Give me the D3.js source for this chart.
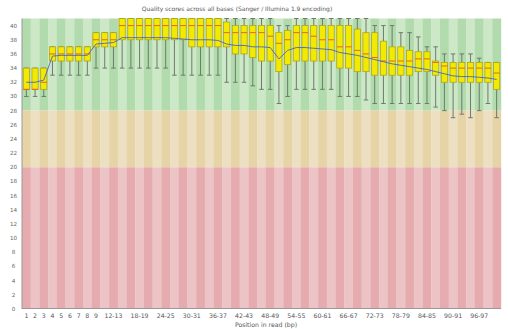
<!DOCTYPE html>
<html><head><meta charset="utf-8">
<script src="https://cdn.jsdelivr.net/npm/d3@7"></script>
<style>body{margin:0;background:#fff}svg{display:block}text{font-family:"DejaVu Sans",sans-serif}</style>
</head><body><svg id="c" width="508" height="329"></svg>
<script>
const categories = ["1","2","3","4","5","6","7","8","9","10-11","12-13","14-15","16-17","18-19","20-21","22-23","24-25","26-27","28-29","30-31","32-33","34-35","36-37","38-39","40-41","42-43","44-45","46-47","48-49","50-51","52-53","54-55","56-57","58-59","60-61","62-63","64-65","66-67","68-69","70-71","72-73","74-75","76-77","78-79","80-81","82-83","84-85","86-87","88-89","90-91","92-93","94-95","96-97","98-99","100-101"];
const shownLabels = ["1","2","3","4","5","6","7","8","9","12-13","18-19","24-25","30-31","36-37","42-43","48-49","54-55","60-61","66-67","72-73","78-79","84-85","90-91","96-97"];
const whiskerLow = [30,30,30,33,33,33,33,33,34,34,34,34,34,34,34,34,34,33,33,33,33,33,33,32,32,32,31.5,31,31,29,30,31,31,31,31,31,30,30,30,29.5,29,29,29,29,29,29,29,28.5,28,27,27.5,27,28,29,27];
const lowerQuartile = [31,31,31,35,35,35,35,35,37,37,37,38,38,38,38,38,38,38,38,37,37,37,37,37,36,36,35.5,35,35,33.5,34.5,35,35,35,35,35,34,34,33.5,33.5,33,33,33,33,33,33.5,33.5,33,32,32,32,32,32,32,31];
const median = [31,31,32,36,36,36,36,36,38,38,38,40,40,40,40,40,40,40,40,40,40,40,40,39,39,39,39,39,38.5,37.5,38,39,39,38.5,38,38,37,37,36.5,36,35.5,35,35,35,35,35.3,35.3,34.8,34.3,34,34,34,34,34,33.3];
const upperQuartile = [34,34,34,37,37,37,37,37,39,39,39,41,41,41,41,41,41,41,41,41,41,41,41,40.5,40,40,40,40,40,39,39.3,40,40,40,40,40,40,40,39.5,39,39,37.8,37,37,36.5,36.3,36.3,35,34.8,34.8,34.8,34.8,34.8,34.8,34.8];
const whiskerHigh = [34,34,34,37,37,37,37,37,39,39,39,41,41,41,41,41,41,41,41,41,41,41,41,41,41,41,41,41,41,40,40,41,41,41,41,41,41,41,41,41,40,40,40,39,39,38.4,37,37,36,36,36,36,35.4,34.8,34.8];
const meanQuality = [32,32,32.3,35.7,35.8,35.8,35.8,35.8,37.4,37.5,37.6,38.3,38.3,38.3,38.3,38.3,38.3,38.2,38.1,38,38,38,37.9,37.4,37.2,37.2,37,37,36.9,35.3,36.5,36.9,36.9,36.8,36.7,36.6,36.2,36,35.8,35.5,35.2,34.9,34.6,34.4,34.2,34,33.8,33.5,33.2,32.9,32.8,32.8,32.7,32.6,32.4];
const yTicks = [0,2,4,6,8,10,12,14,16,18,20,22,24,26,28,30,32,34,36,38,40];
const zones = [{lo:28,hi:41,c:["#b1dbac","#cce8c7"]},{lo:20,hi:28,c:["#e6d4a6","#eddfc2"]},{lo:0,hi:20,c:["#e6abae","#edc4c5"]}];

const svg = d3.select("#c");
const L=22, R=501, T=18.5, B=309;
const x = d3.scaleBand().domain(categories).range([L,R]).padding(0);
const y = d3.scaleLinear().domain([0,41]).range([B,T]);
const bw = x.bandwidth();

zones.forEach(z=>{
  svg.append("g").selectAll("rect").data(categories).join("rect")
    .attr("x",d=>x(d)).attr("width",bw+0.2)
    .attr("y",y(z.hi)).attr("height",y(z.lo)-y(z.hi))
    .attr("fill",(d,i)=>z.c[i%2]);
});

const data = categories.map((c,i)=>({c,lo:whiskerLow[i],q1:lowerQuartile[i],med:median[i],q3:upperQuartile[i],hi:whiskerHigh[i],mean:meanQuality[i]}));
const boxW = 6.2, capW = 4.5;
const g = svg.append("g");
const cx = d=>x(d.c)+bw/2;
const wc = "#6e7a6e";
g.selectAll(".wl").data(data).join("line").attr("x1",cx).attr("x2",cx).attr("y1",d=>y(d.lo)).attr("y2",d=>y(d.q1)).attr("stroke",wc).attr("stroke-width",1);
g.selectAll(".wh").data(data).join("line").attr("x1",cx).attr("x2",cx).attr("y1",d=>y(d.hi)).attr("y2",d=>y(d.q3)).attr("stroke",wc).attr("stroke-width",1);
g.selectAll(".cl").data(data).join("line").attr("x1",d=>cx(d)-capW/2).attr("x2",d=>cx(d)+capW/2).attr("y1",d=>y(d.lo)).attr("y2",d=>y(d.lo)).attr("stroke",wc).attr("stroke-width",1);
g.selectAll(".ch").data(data).join("line").attr("x1",d=>cx(d)-capW/2).attr("x2",d=>cx(d)+capW/2).attr("y1",d=>y(d.hi)).attr("y2",d=>y(d.hi)).attr("stroke",wc).attr("stroke-width",1);
g.selectAll(".bx").data(data).join("rect").attr("x",d=>cx(d)-boxW/2).attr("width",boxW)
  .attr("y",d=>y(d.q3)).attr("height",d=>y(d.q1)-y(d.q3))
  .attr("fill","#f2ea00").attr("stroke","#b0a41a").attr("stroke-width",0.8);
g.selectAll(".md").data(data).join("line").attr("x1",d=>cx(d)-boxW/2).attr("x2",d=>cx(d)+boxW/2)
  .attr("y1",d=>y(d.med)).attr("y2",d=>y(d.med)).attr("stroke","#e8641e").attr("stroke-width",1);
svg.append("path").datum(data).attr("fill","none").attr("stroke","#4a62c8").attr("stroke-width",0.9)
  .attr("d",d3.line().x(cx).y(d=>y(d.mean)));

const ax = svg.append("g").attr("font-size",5.6);
ax.selectAll(".yt").data(yTicks).join("text").attr("x",13.5).attr("y",d=>y(d)+2).attr("text-anchor","middle").attr("fill","#666").text(d=>d);
svg.append("line").attr("x1",L).attr("x2",L).attr("y1",T).attr("y2",B).attr("stroke","#999").attr("stroke-width",1);
svg.append("line").attr("x1",L).attr("x2",R).attr("y1",B-0.5).attr("y2",B-0.5).attr("stroke","#999").attr("stroke-width",1);
svg.append("g").attr("font-size",6.2).selectAll(".xt").data(shownLabels).join("text").attr("x",d=>x(d)+bw/2).attr("y",318).attr("text-anchor","middle").attr("fill","#555").text(d=>d);
svg.append("text").attr("x",266).attr("y",327).attr("text-anchor","middle").attr("font-size",6.2).attr("fill","#555").text("Position in read (bp)");
svg.append("text").attr("x",237).attr("y",11).attr("text-anchor","middle").attr("font-size",6).attr("fill","#555").text("Quality scores across all bases (Sanger / Illumina 1.9 encoding)");
</script></body></html>
